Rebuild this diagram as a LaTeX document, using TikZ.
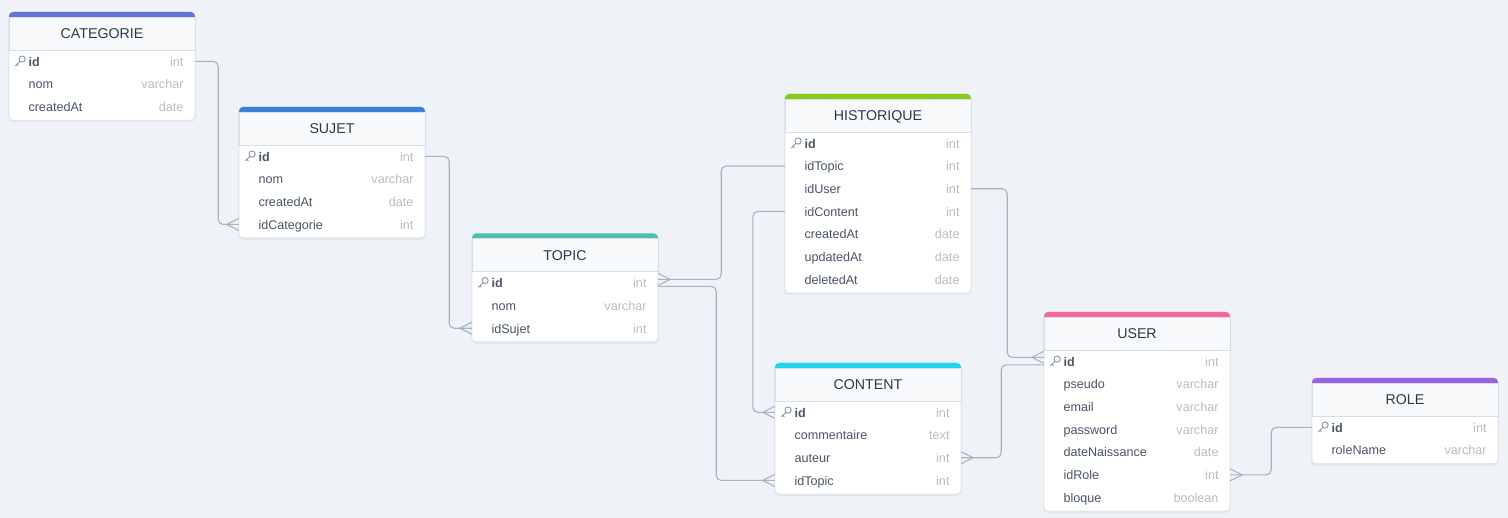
\documentclass[tikz,border=0pt]{standalone}
\usepackage{fontspec}
\setmainfont{Liberation Sans}
\definecolor{bgcol}{HTML}{EFF3F7}
\definecolor{linecol}{HTML}{A7B2C4}
\definecolor{bordercol}{HTML}{E1E6EC}
\definecolor{shadowcol}{HTML}{E2E7ED}
\definecolor{hdrcol}{HTML}{F7F9FB}
\definecolor{hdrline}{HTML}{D6DEE8}
\definecolor{titlecol}{HTML}{2D3748}
\definecolor{namecol}{HTML}{4A5568}
\definecolor{typecol}{HTML}{B7BEC6}
\definecolor{keycol}{HTML}{8A94A3}
\definecolor{catcol}{HTML}{6672D6}
\definecolor{sujetcol}{HTML}{3584D8}
\definecolor{topiccol}{HTML}{4DBEB2}
\definecolor{histcol}{HTML}{84CC16}
\definecolor{contentcol}{HTML}{22D3EE}
\definecolor{usercol}{HTML}{F76896}
\definecolor{rolecol}{HTML}{9A62E0}
\begin{document}
\begin{tikzpicture}[x=1pt,y=-1pt,line join=round,
        conn/.style={draw=linecol,line width=1.1pt,rounded corners=5pt},
        foot/.style={draw=linecol,line width=1.1pt},
        tbody/.style={fill=white,draw=bordercol,line width=0.6pt,rounded corners=4pt},
        tshadow/.style={fill=shadowcol,rounded corners=5pt},
        hdr/.style={fill=hdrcol,draw=hdrline,line width=0.7pt},
        title/.style={text=titlecol,font=\fontsize{14.2}{16}\selectfont,text height=10pt,text depth=0pt,inner sep=0pt,yshift=-1pt},
        row/.style={minimum width=186pt,minimum height=22.7pt,inner sep=0pt},
        fname/.style={anchor=west,xshift=19.5pt,yshift=-1.8pt,inner sep=0pt,text=namecol,font=\fontsize{12.6}{14}\selectfont,text height=9pt,text depth=3pt},
        ftype/.style={anchor=east,xshift=-11.5pt,yshift=-1.8pt,inner sep=0pt,text=typecol,font=\fontsize{12.6}{14}\selectfont,text height=9pt,text depth=3pt},
        crowleft/.pic={\draw[foot] (0,-6) -- (-12,0) -- (0,6);},
        crowright/.pic={\draw[foot] (0,-6) -- (12,0) -- (0,6);},
        pkey/.pic={\draw[keycol,line width=0.9pt] (2.3,-2.3) circle (3.1pt) (0.2,-0.2) -- (-4.6,4.6) (-3,3) -- (-1.5,4.5);}]

        \fill[bgcol] (0,0) rectangle (1508,518);
        \useasboundingbox (0,0) rectangle (1508,518);

        % CATEGORIE
        \fill[tshadow] (8,13) rectangle (196,122);
        \draw[tbody] (9,12) rectangle (195,120.1);
        \fill[catcol,rounded corners=4pt] (9,12) rectangle (195,24);
        \filldraw[hdr] (9,17) rectangle (195,50);
        \node[title] (cat) at (102,33) {CATEGORIE};
        \node[row,label={[fname]west:\textbf{id}},label={[ftype]east:int}] (catId) at (102,61.35) {};
        \node[row,label={[fname]west:nom},label={[ftype]east:varchar}] (catNom) at (102,84.05) {};
        \node[row,label={[fname]west:createdAt},label={[ftype]east:date}] (catCreatedAt) at (102,106.75) {};
        \pic at ([xshift=11pt]catId.west) {pkey};

        % SUJET
        \fill[tshadow] (238,108) rectangle (426,240);
        \draw[tbody] (239,107) rectangle (425,237.8);
        \fill[sujetcol,rounded corners=4pt] (239,107) rectangle (425,119);
        \filldraw[hdr] (239,112) rectangle (425,145);
        \node[title] (sujet) at (332,128) {SUJET};
        \node[row,label={[fname]west:\textbf{id}},label={[ftype]east:int}] (sujetId) at (332,156.35) {};
        \node[row,label={[fname]west:nom},label={[ftype]east:varchar}] (sujetNom) at (332,179.05) {};
        \node[row,label={[fname]west:createdAt},label={[ftype]east:date}] (sujetCreatedAt) at (332,201.75) {};
        \node[row,label={[fname]west:idCategorie},label={[ftype]east:int}] (sujetIdCategorie) at (332,224.45) {};
        \pic at ([xshift=11pt]sujetId.west) {pkey};

        % TOPIC
        \fill[tshadow] (471,234.5) rectangle (659,344);
        \draw[tbody] (472,233.5) rectangle (658,341.6);
        \fill[topiccol,rounded corners=4pt] (472,233.5) rectangle (658,245.5);
        \filldraw[hdr] (472,238.5) rectangle (658,271.5);
        \node[title] (topic) at (565,254.5) {TOPIC};
        \node[row,label={[fname]west:\textbf{id}},label={[ftype]east:int}] (topicId) at (565,282.85) {};
        \node[row,label={[fname]west:nom},label={[ftype]east:varchar}] (topicNom) at (565,305.55) {};
        \node[row,label={[fname]west:idSujet},label={[ftype]east:int}] (topicIdSujet) at (565,328.25) {};
        \pic at ([xshift=11pt]topicId.west) {pkey};

        % HISTORIQUE
        \fill[tshadow] (784,95) rectangle (972,295);
        \draw[tbody] (785,94) rectangle (971,292.9);
        \fill[histcol,rounded corners=4pt] (785,94) rectangle (971,106);
        \filldraw[hdr] (785,99) rectangle (971,132);
        \node[title] (hist) at (878,115) {HISTORIQUE};
        \node[row,label={[fname]west:\textbf{id}},label={[ftype]east:int}] (histId) at (878,143.35) {};
        \node[row,label={[fname]west:idTopic},label={[ftype]east:int}] (histIdTopic) at (878,166.05) {};
        \node[row,label={[fname]west:idUser},label={[ftype]east:int}] (histIdUser) at (878,188.75) {};
        \node[row,label={[fname]west:idContent},label={[ftype]east:int}] (histIdContent) at (878,211.45) {};
        \node[row,label={[fname]west:createdAt},label={[ftype]east:date}] (histCreatedAt) at (878,234.15) {};
        \node[row,label={[fname]west:updatedAt},label={[ftype]east:date}] (histUpdatedAt) at (878,256.85) {};
        \node[row,label={[fname]west:deletedAt},label={[ftype]east:date}] (histDeletedAt) at (878,279.55) {};
        \pic at ([xshift=11pt]histId.west) {pkey};

        % CONTENT
        \fill[tshadow] (774,364) rectangle (962,496);
        \draw[tbody] (775,363) rectangle (961,493.8);
        \fill[contentcol,rounded corners=4pt] (775,363) rectangle (961,375);
        \filldraw[hdr] (775,368) rectangle (961,401);
        \node[title] (content) at (868,384) {CONTENT};
        \node[row,label={[fname]west:\textbf{id}},label={[ftype]east:int}] (contentId) at (868,412.35) {};
        \node[row,label={[fname]west:commentaire},label={[ftype]east:text}] (contentCommentaire) at (868,435.05) {};
        \node[row,label={[fname]west:auteur},label={[ftype]east:int}] (contentAuteur) at (868,457.75) {};
        \node[row,label={[fname]west:idTopic},label={[ftype]east:int}] (contentIdTopic) at (868,480.45) {};
        \pic at ([xshift=11pt]contentId.west) {pkey};

        % USER
        \fill[tshadow] (1043,313) rectangle (1231,513);
        \draw[tbody] (1044,312) rectangle (1230,510.9);
        \fill[usercol,rounded corners=4pt] (1044,312) rectangle (1230,324);
        \filldraw[hdr] (1044,317) rectangle (1230,350);
        \node[title] (user) at (1137,333) {USER};
        \node[row,label={[fname]west:\textbf{id}},label={[ftype]east:int}] (userId) at (1137,361.35) {};
        \node[row,label={[fname]west:pseudo},label={[ftype]east:varchar}] (userPseudo) at (1137,384.05) {};
        \node[row,label={[fname]west:email},label={[ftype]east:varchar}] (userEmail) at (1137,406.75) {};
        \node[row,label={[fname]west:password},label={[ftype]east:varchar}] (userPassword) at (1137,429.45) {};
        \node[row,label={[fname]west:dateNaissance},label={[ftype]east:date}] (userDateNaissance) at (1137,452.15) {};
        \node[row,label={[fname]west:idRole},label={[ftype]east:int}] (userIdRole) at (1137,474.85) {};
        \node[row,label={[fname]west:bloque},label={[ftype]east:boolean}] (userBloque) at (1137,497.55) {};
        \pic at ([xshift=11pt]userId.west) {pkey};

        % ROLE
        \fill[tshadow] (1311,379) rectangle (1499,466);
        \draw[tbody] (1312,378) rectangle (1498,463.4);
        \fill[rolecol,rounded corners=4pt] (1312,378) rectangle (1498,390);
        \filldraw[hdr] (1312,383) rectangle (1498,416);
        \node[title] (role) at (1405,399) {ROLE};
        \node[row,label={[fname]west:\textbf{id}},label={[ftype]east:int}] (roleId) at (1405,427.35) {};
        \node[row,label={[fname]west:roleName},label={[ftype]east:varchar}] (roleRoleName) at (1405,450.05) {};
        \pic at ([xshift=11pt]roleId.west) {pkey};

        % relations
        \draw[conn] (catId.east) -- ++(23,0) |- (sujetIdCategorie.west);
        \pic at (sujetIdCategorie.west) {crowleft};
        \draw[conn] (sujetId.east) -- ++(24,0) |- (topicIdSujet.west);
        \pic at (topicIdSujet.west) {crowleft};
        \draw[conn] ([yshift=3.5pt]topicId.east) -- ++(63,0) |- (histIdTopic.west);
        \pic at ([yshift=3.5pt]topicId.east) {crowright};
        \draw[conn] ([yshift=-3.5pt]topicId.east) -- ++(58,0) |- (contentIdTopic.west);
        \pic at (contentIdTopic.west) {crowleft};
        \draw[conn] (histIdContent.west) -- ++(-32,0) |- (contentId.west);
        \pic at (contentId.west) {crowleft};
        \draw[conn] (histIdUser.east) -- ++(36,0) |- ([yshift=4pt]userId.west);
        \pic at ([yshift=4pt]userId.west) {crowleft};
        \draw[conn] (contentAuteur.east) -- ++(40,0) |- ([yshift=-3.5pt]userId.west);
        \pic at (contentAuteur.east) {crowright};
        \draw[conn] (userIdRole.east) -- ++(41,0) |- (roleId.west);
        \pic at (userIdRole.east) {crowright};
    \end{tikzpicture}
\end{document}
